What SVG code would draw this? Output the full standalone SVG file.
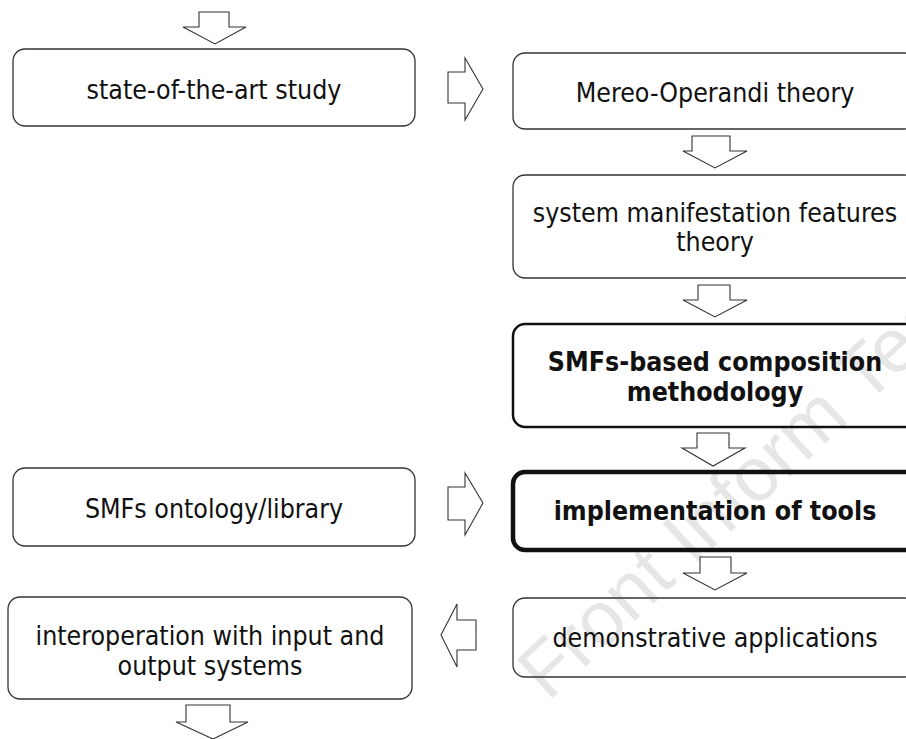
<svg xmlns="http://www.w3.org/2000/svg" width="906" height="739" viewBox="0 0 906 739">
<style>
.bx{fill:none;stroke:#333;stroke-width:1.3}
.ar{fill:#fff;stroke:#333;stroke-width:1.1;stroke-linejoin:miter}
.t{font-family:"DejaVu Sans Condensed","DejaVu Sans",sans-serif;font-stretch:condensed;font-size:26.5px;fill:#111;text-anchor:middle}
.b{font-weight:bold}
.wm{font-family:"Liberation Sans Narrow","Liberation Sans",Arial,sans-serif;font-size:76px;fill:#e6e6e6}
</style>
<rect width="906" height="739" fill="#fff"/>
<text class="wm" transform="translate(548,702) rotate(-43)">Front Inform Techn</text>
<g id="connectors">
<polygon class="ar" points="199,12 229,12 229,27 246,27 215,44 183,27 199,27"/>
<polygon class="ar" points="692,136 730,136 730,151 747,151 715,168 683,151 692,151"/>
<polygon class="ar" points="698,285 730,285 730,300 747,300 715,317 683,300 698,300"/>
<polygon class="ar" points="697,433 729,433 729,448 745,448 713,466 682,448 697,448"/>
<polygon class="ar" points="700,557 731,557 731,573 747,573 715,590 683,573 700,573"/>
<polygon class="ar" points="186,705 230,705 230,722 248,722 213,739 176,722 186,722"/>
<polygon class="ar" points="448,72 465,72 465,58 483,89 465,120 465,103 448,103"/>
<polygon class="ar" points="448,487 465,487 465,473 483,503 465,535 465,520 448,520"/>
<polygon class="ar" points="476,620 457,620 457,604 441,635 457,667 457,650 476,650"/>
</g>
<g id="n1"><rect class="bx" x="13" y="49" width="402" height="77" rx="12"/><text class="t" x="214" y="99">state-of-the-art study</text></g>
<g id="n2"><rect class="bx" x="513" y="53" width="404" height="76" rx="12"/><text class="t" x="715" y="102">Mereo-Operandi theory</text></g>
<g id="n3"><rect class="bx" x="513" y="175" width="404" height="103" rx="12"/><text class="t" x="715" y="222">system manifestation features</text><text class="t" x="715" y="251">theory</text></g>
<g id="n4"><rect class="bx" x="513" y="324" width="404" height="103" rx="12" style="stroke-width:2.5;stroke:#111"/><text class="t b" x="715" y="371">SMFs-based composition</text><text class="t b" x="715" y="401">methodology</text></g>
<g id="n5"><rect class="bx" x="513" y="472" width="404" height="78" rx="12" style="stroke-width:4.5;stroke:#111"/><text class="t b" x="715" y="520">implementation of tools</text></g>
<g id="n6"><rect class="bx" x="513" y="598" width="404" height="79" rx="12"/><text class="t" x="715" y="647">demonstrative applications</text></g>
<g id="n7"><rect class="bx" x="13" y="468" width="402" height="78" rx="12"/><text class="t" x="214" y="518">SMFs ontology/library</text></g>
<g id="n8"><rect class="bx" x="8" y="597" width="404" height="102" rx="12"/><text class="t" x="210" y="645">interoperation with input and</text><text class="t" x="210" y="675">output systems</text></g>
</svg>
